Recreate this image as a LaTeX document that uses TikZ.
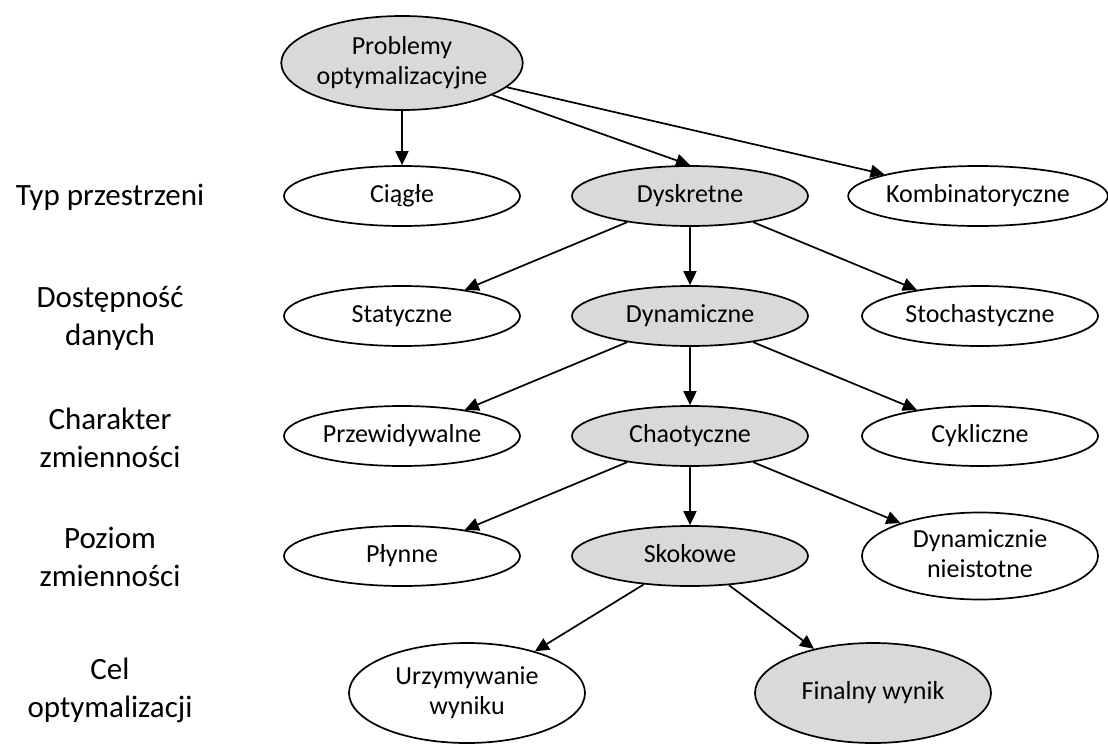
\documentclass[tikz,border=0pt]{standalone}
\usepackage{fontspec}
\setmainfont{Carlito}
\usetikzlibrary{shapes.geometric,arrows.meta}
\definecolor{nodegray}{RGB}{217,217,217}
\tikzset{
  levelnode/.style={ellipse, draw=black, line width=1.7pt, inner sep=0pt,
    minimum width=236pt, minimum height=60pt, align=center,
    font=\fontsize{26}{30}\selectfont, fill=white},
  picked/.style={levelnode, fill=nodegray},
  tallnode/.style={minimum height=100pt},
  rowlabel/.style={align=center, font=\fontsize{31}{38}\selectfont},
  link/.style={line width=1.7pt, -{Triangle[length=14pt,width=13pt]}}
}
\begin{document}
\begin{tikzpicture}[x=1pt,y=-1pt]
\useasboundingbox (0,0) rectangle (1108,747);

% row labels
\node[rowlabel] (l1) at (110,197) {Typ przestrzeni};
\node[rowlabel] (l2) at (110,318) {Dostępność\\danych};
\node[rowlabel] (l3) at (110,438) {Charakter\\zmienności};
\node[rowlabel] (l4) at (110,557) {Poziom\\zmienności};
\node[rowlabel] (l5) at (110,690) {Cel\\optymalizacji};

% tree nodes
\node[picked, minimum height=94pt] (root) at (402,63) {\strut Problemy\\\strut optymalizacyjne};

\node[levelnode] (ciagle) at (402,196) {\strut Ciągłe};
\node[picked] (dyskretne) at (690,196) {\strut Dyskretne};
\node[levelnode, minimum width=257pt] (kombi) at (978,196) {\strut Kombinatoryczne};

\node[levelnode] (statyczne) at (402,316) {\strut Statyczne};
\node[picked] (dynamiczne) at (690,316) {\strut Dynamiczne};
\node[levelnode] (stoch) at (980,316) {\strut Stochastyczne};

\node[levelnode] (przew) at (402,436) {\strut Przewidywalne};
\node[picked] (chaot) at (690,436) {\strut Chaotyczne};
\node[levelnode] (cykl) at (980,436) {\strut Cykliczne};

\node[levelnode] (plynne) at (402,556) {\strut Płynne};
\node[picked] (skok) at (690,556) {\strut Skokowe};
\node[levelnode, minimum height=87pt] (dynnie) at (980,556) {\strut Dynamicznie\\\strut nieistotne};

\node[levelnode, tallnode] (urzym) at (467,693) {\strut Urzymywanie\\\strut wyniku};
\node[picked, tallnode] (final) at (873,693) {\strut Finalny wynik};

% connectors
\draw[link] (root) -- (ciagle);
\draw[link] (root) -- (dyskretne.north);
\draw[link] (root) -- (kombi);

\draw[link] (dyskretne) -- (statyczne);
\draw[link] (dyskretne) -- (dynamiczne);
\draw[link] (dyskretne) -- (stoch);

\draw[link] (dynamiczne) -- (przew);
\draw[link] (dynamiczne) -- (chaot);
\draw[link] (dynamiczne) -- (cykl);

\draw[link] (chaot) -- (plynne);
\draw[link] (chaot) -- (skok);
\draw[link] (chaot) -- (dynnie);

\draw[link] (skok) -- (urzym);
\draw[link] (skok) -- (final);
\end{tikzpicture}
\end{document}
